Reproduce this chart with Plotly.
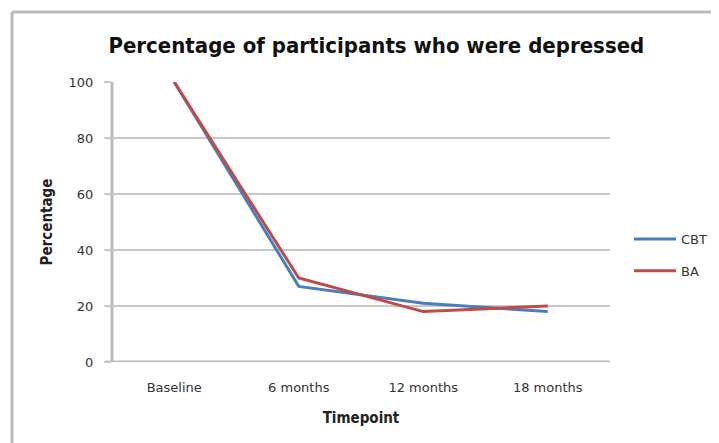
import plotly.graph_objects as go

timepoints = ["Baseline", "6 months", "12 months", "18 months"]
cbt = [100, 27, 21, 18]
ba = [100, 30, 18, 20]
y_ticks = [0, 20, 40, 60, 80, 100]

OFF = 8  # default body margin of the html page
W, H = 719 - OFF, 443 - OFF
L, T = 112 - OFF, 82 - OFF
R, B = 109, 81
pw, ph = W - L - R, H - T - B

def px(x):
    return (x - OFF - L) / pw

def py(y):
    return (H - B - (y - OFF)) / ph

cond = "DejaVu Sans Condensed, Liberation Sans, Arial"
wide = "DejaVu Sans, Liberation Sans, Arial"

fig = go.Figure()
fig.add_trace(go.Scatter(x=timepoints, y=cbt, mode="lines", name="CBT", legendgroup="a",
                         line=dict(color="#4A7EBB", width=3)))
fig.add_trace(go.Scatter(x=timepoints, y=ba, mode="lines", name="BA", legendgroup="b",
                         line=dict(color="#BE4B48", width=3)))

fig.update_layout(
    width=W, height=H,
    margin=dict(l=L, r=R, t=T, b=B, autoexpand=False),
    paper_bgcolor="white", plot_bgcolor="white",
    font=dict(family=cond, color="#222"),
    title=dict(text="<b>Percentage of participants who were depressed</b>",
               x=px(370), xanchor="center", y=1 - (45 - OFF) / H, yanchor="middle",
               font=dict(size=22, family=cond, color="#111")),
    xaxis=dict(showgrid=False, showline=False, ticks="",
               tickfont=dict(size=13, family=wide, color="#333"), ticklabelstandoff=16,
               title=dict(text="<b>Timepoint</b>", font=dict(size=15, family=cond, color="#222"), standoff=18),
               range=[-0.5, 3.5]),
    yaxis=dict(range=[0, 100], tickvals=y_ticks, showgrid=True, gridcolor="#C8C8C8", gridwidth=2,
               zeroline=False, showline=False, ticks="outside", ticklen=7, tickcolor="#C8C8C8",
               tickwidth=2, tickfont=dict(size=13, family=wide, color="#333"), ticklabelstandoff=8,
               title=dict(text="<b>Percentage</b>", font=dict(size=15, family=cond, color="#222"), standoff=12)),
    legend=dict(x=px(629), y=py(255), xanchor="left", yanchor="middle", itemwidth=42,
                font=dict(size=13, family=wide, color="#333"), tracegroupgap=12),
    showlegend=True,
)

# y-axis line and baseline
fig.add_shape(type="line", xref="paper", yref="paper", x0=0, x1=0, y0=0, y1=1,
              line=dict(color="#BBBBBB", width=3), layer="below")
fig.add_shape(type="line", xref="paper", yref="y", x0=px(105), x1=1, y0=0, y1=0,
              line=dict(color="#BBBBBB", width=3), layer="below")
# outer chart border
fig.add_shape(type="line", xref="paper", yref="paper", x0=px(12), x1=px(12), y0=py(12), y1=py(460),
              line=dict(color="#BBBBBB", width=3))
fig.add_shape(type="line", xref="paper", yref="paper", x0=px(12), x1=px(730), y0=py(12), y1=py(12),
              line=dict(color="#BBBBBB", width=3))

fig.write_html("out.html")
